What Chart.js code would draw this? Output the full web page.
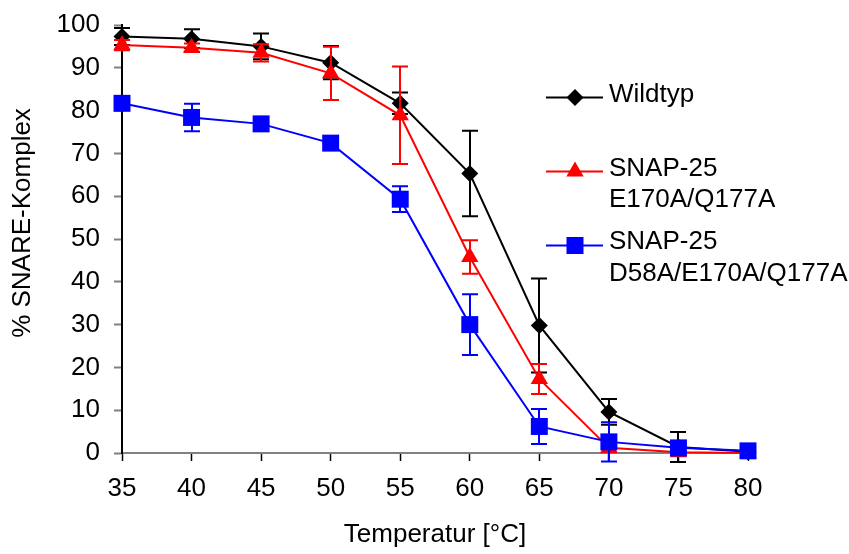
<!DOCTYPE html>
<html>
<head>
<meta charset="utf-8">
<script src="https://cdn.jsdelivr.net/npm/chart.js@4"></script>
<style>
  html, body { margin: 0; padding: 0; background: #ffffff; }
  #wrap { width: 849px; height: 554px; }
</style>
</head>
<body>
<div id="wrap"><canvas id="c" width="849" height="554"></canvas></div>
<script>
// ---- data ----
const temperatures = [35, 40, 45, 50, 55, 60, 65, 70, 75, 80];
const wildtyp      = [97.3, 96.8, 95.0, 91.2, 81.7, 65.3, 29.8, 9.6, 1.4, 0.3];
const wildtypErr   = [2.0, 2.2, 3.0, 3.9, 2.5, 10.0, 11.0, 3.0, 3.5, 0];
const e170a        = [95.3, 94.7, 93.5, 88.7, 78.9, 45.8, 17.3, 1.2, 0.2, 0.0];
const e170aErr     = [1.2, 1.0, 2.0, 6.2, 11.4, 3.9, 3.5, 1.0, 0.3, 0];
const d58a         = [81.7, 78.4, 76.9, 72.4, 59.3, 30.0, 6.2, 2.6, 1.2, 0.5];
const d58aErr      = [0.8, 3.2, 1.6, 0.8, 3.0, 7.1, 4.1, 4.6, 0.8, 0.3];
const seriesNames  = ['Wildtyp', ['SNAP-25', 'E170A/Q177A'], ['SNAP-25', 'D58A/E170A/Q177A']];
const xTitle = 'Temperatur [°C]';
const yTitle = '% SNARE-Komplex';

const FONT = '"Liberation Sans", Arial, sans-serif';
const pts = (arr) => temperatures.map((t, i) => ({ x: t, y: arr[i] }));

const errorBars = {
  id: 'errorBars',
  beforeDatasetDraw(chart, args) {
    const ds = chart.data.datasets[args.index];
    if (!ds.errors) return;
    const ys = chart.scales.y, ctx = chart.ctx;
    ctx.save();
    ctx.strokeStyle = ds.borderColor;
    ctx.lineWidth = 2;
    args.meta.data.forEach((el, i) => {
      const e = ds.errors[i];
      if (!e) return;
      const v = ds.data[i].y;
      const x = Math.round(el.x);
      const t = ys.getPixelForValue(v + e), b = ys.getPixelForValue(v - e);
      ctx.beginPath();
      ctx.moveTo(x, t); ctx.lineTo(x, b);
      ctx.moveTo(x - 8, t); ctx.lineTo(x + 8, t);
      ctx.moveTo(x - 8, b); ctx.lineTo(x + 8, b);
      ctx.stroke();
    });
    ctx.restore();
  }
};

function drawMarker(ctx, style, x, y, color) {
  ctx.fillStyle = color;
  ctx.beginPath();
  if (style === 'rectRot') {
    const r = 8.5;
    ctx.moveTo(x, y - r); ctx.lineTo(x + r, y); ctx.lineTo(x, y + r); ctx.lineTo(x - r, y);
  } else if (style === 'triangle') {
    const r = 10;
    ctx.moveTo(x, y - r); ctx.lineTo(x + r * 0.866, y + r * 0.5); ctx.lineTo(x - r * 0.866, y + r * 0.5);
  } else {
    const h = 8.5;
    ctx.rect(x - h, y - h, 2 * h, 2 * h);
  }
  ctx.closePath();
  ctx.fill();
}

const legendPlugin = {
  id: 'sideLegend',
  afterDraw(chart) {
    const ctx = chart.ctx;
    const items = [
      { ds: 0, lineY: 97.5, textY: [95] },
      { ds: 1, lineY: 171.5, textY: [168.5, 200] },
      { ds: 2, lineY: 245.5, textY: [242, 274] }
    ];
    ctx.save();
    items.forEach(it => {
      const ds = chart.data.datasets[it.ds];
      ctx.strokeStyle = ds.borderColor;
      ctx.lineWidth = 2;
      ctx.beginPath();
      ctx.moveTo(546, it.lineY); ctx.lineTo(603, it.lineY);
      ctx.stroke();
      drawMarker(ctx, ds.pointStyle, 575, it.lineY, ds.borderColor);
      ctx.fillStyle = '#000';
      ctx.font = '26px ' + FONT;
      ctx.textBaseline = 'middle';
      ctx.textAlign = 'left';
      const lines = Array.isArray(seriesNames[it.ds]) ? seriesNames[it.ds] : [seriesNames[it.ds]];
      lines.forEach((l, k) => ctx.fillText(l, 609, it.textY[k]));
    });
    // y-axis title (sits a little above the axis centre in the reference)
    ctx.translate(23, 223);
    ctx.rotate(-Math.PI / 2);
    ctx.textAlign = 'center';
    ctx.textBaseline = 'middle';
    ctx.fillStyle = '#000';
    ctx.font = '26px ' + FONT;
    ctx.fillText(yTitle, 0, 0);
    ctx.restore();
  }
};

const common = { borderWidth: 2, tension: 0, clip: false, pointBorderWidth: 0, pointHoverRadius: 0 };

new Chart(document.getElementById('c'), {
  type: 'line',
  data: {
    datasets: [
      Object.assign({}, common, {
        label: 'Wildtyp', data: pts(wildtyp), errors: wildtypErr,
        borderColor: '#000000', backgroundColor: '#000000',
        pointStyle: 'rectRot', pointRadius: 8.5, order: 3
      }),
      Object.assign({}, common, {
        label: 'SNAP-25 E170A/Q177A', data: pts(e170a), errors: e170aErr,
        borderColor: '#ff0000', backgroundColor: '#ff0000',
        pointStyle: 'triangle', pointRadius: 10, order: 2
      }),
      Object.assign({}, common, {
        label: 'SNAP-25 D58A/E170A/Q177A', data: pts(d58a), errors: d58aErr,
        borderColor: '#0000ff', backgroundColor: '#0000ff',
        pointStyle: 'rect', pointRadius: 12, order: 1
      })
    ]
  },
  options: {
    responsive: false,
    animation: false,
    events: [],
    layout: { padding: { top: 25, right: 101, left: 0, bottom: 0 } },
    plugins: { legend: { display: false }, tooltip: { enabled: false } },
    scales: {
      x: {
        type: 'linear', min: 35, max: 80,
        afterFit: (s) => { s.height = 101; s.paddingLeft = 0; s.paddingRight = 0; },
        ticks: { stepSize: 5, color: '#000', padding: 12, font: { family: FONT, size: 26 } },
        grid: { drawOnChartArea: false, drawTicks: true, tickLength: 8, tickColor: '#000', tickWidth: 1.5 },
        border: { color: '#808080', width: 2 },
        title: { display: true, text: xTitle, color: '#000', font: { family: FONT, size: 26 }, padding: { top: 0, bottom: 4 } }
      },
      y: {
        min: 0, max: 100,
        afterFit: (s) => { s.width = 122; s.paddingTop = 0; s.paddingBottom = 0; },
        ticks: { stepSize: 10, color: '#000', padding: 14, font: { family: FONT, size: 26 } },
        grid: { drawOnChartArea: false, drawTicks: true, tickLength: 8, tickColor: '#808080', tickWidth: 2 },
        border: { color: '#000', width: 2 },
        title: { display: false, text: yTitle }
      }
    }
  },
  plugins: [errorBars, legendPlugin]
});
</script>
</body>
</html>
